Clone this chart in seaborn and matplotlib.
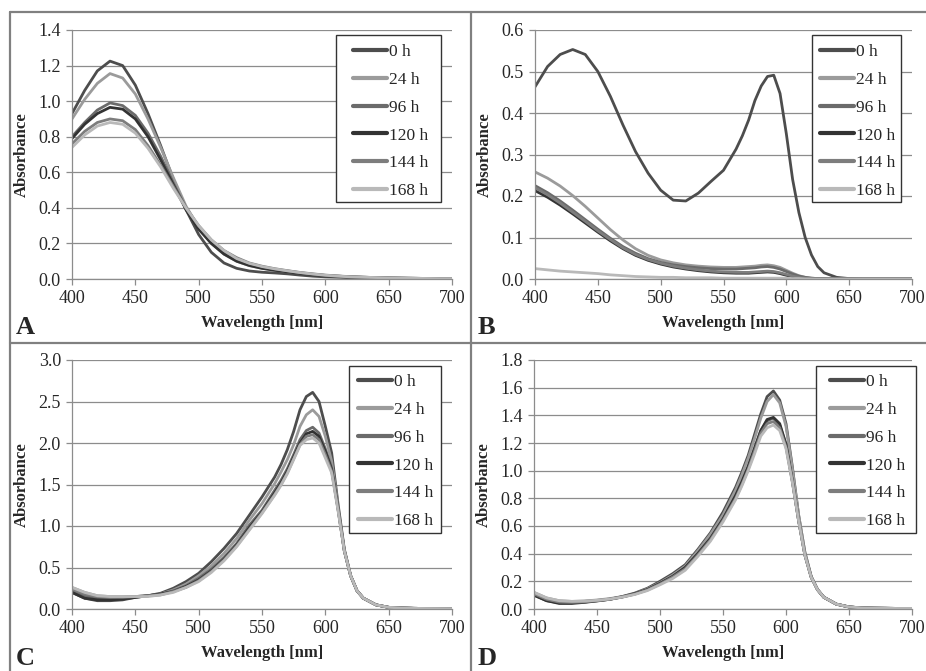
import numpy as np
import pandas as pd
import seaborn as sns
import matplotlib.pyplot as plt
from matplotlib.lines import Line2D
from matplotlib.patches import Rectangle

# time points and grey shades (as in the legend)
HOURS = ['0 h', '24 h', '96 h', '120 h', '144 h', '168 h']
GREYS = ['#4d4d4d', '#9b9b9b', '#6b6b6b', '#333333', '#7d7d7d', '#b9b9b9']

# wavelength grids
WL_A = list(range(400, 701, 10))
WL_BCD = list(range(400, 551, 10)) + list(range(560, 631, 5)) + list(range(640, 701, 10))

# Panel A
A_0h = [0.93, 1.06, 1.17, 1.225, 1.20, 1.09, 0.93, 0.75, 0.56, 0.39, 0.25, 0.15, 0.09, 0.06, 0.045, 0.038,
        0.034, 0.029, 0.022, 0.016, 0.012, 0.010, 0.008, 0.006, 0.005, 0.004, 0.003, 0.002, 0.002, 0.001, 0.001]
A_24h = [0.90, 1.01, 1.10, 1.155, 1.13, 1.04, 0.90, 0.74, 0.57, 0.41, 0.29, 0.20, 0.14, 0.10, 0.075, 0.060,
         0.050, 0.041, 0.033, 0.026, 0.020, 0.016, 0.012, 0.010, 0.008, 0.006, 0.005, 0.004, 0.003, 0.002, 0.002]
A_96h = [0.80, 0.88, 0.95, 0.99, 0.975, 0.92, 0.82, 0.69, 0.54, 0.40, 0.29, 0.21, 0.15, 0.11, 0.085, 0.068,
         0.055, 0.045, 0.035, 0.027, 0.020, 0.016, 0.012, 0.010, 0.008, 0.006, 0.005, 0.004, 0.003, 0.002, 0.002]
A_120h = [0.79, 0.87, 0.93, 0.965, 0.955, 0.90, 0.80, 0.67, 0.53, 0.39, 0.28, 0.20, 0.14, 0.10, 0.076, 0.060,
          0.049, 0.040, 0.031, 0.024, 0.018, 0.014, 0.011, 0.009, 0.007, 0.005, 0.004, 0.003, 0.003, 0.002, 0.002]
A_144h = [0.76, 0.83, 0.88, 0.90, 0.89, 0.84, 0.75, 0.64, 0.52, 0.40, 0.30, 0.22, 0.16, 0.12, 0.090, 0.072,
          0.058, 0.047, 0.037, 0.029, 0.022, 0.017, 0.013, 0.010, 0.008, 0.006, 0.005, 0.004, 0.003, 0.002, 0.002]
A_168h = [0.74, 0.81, 0.86, 0.88, 0.87, 0.82, 0.735, 0.63, 0.51, 0.40, 0.30, 0.22, 0.16, 0.115, 0.088, 0.070,
          0.057, 0.046, 0.036, 0.028, 0.021, 0.016, 0.012, 0.010, 0.008, 0.006, 0.005, 0.004, 0.003, 0.002, 0.002]

# Panel B
B_0h = [0.463, 0.512, 0.541, 0.553, 0.541, 0.50, 0.44, 0.371, 0.307, 0.255, 0.214, 0.19, 0.188, 0.207, 0.235, 0.262,
        0.313, 0.345, 0.383, 0.43, 0.465, 0.488, 0.491, 0.447, 0.35, 0.24, 0.16, 0.10, 0.058, 0.03, 0.015,
        0.004, 0.001, 0.0, 0.0, 0.0, 0.0, 0.0]
B_24h = [0.258, 0.243, 0.224, 0.201, 0.175, 0.147, 0.119, 0.094, 0.073, 0.057, 0.046, 0.039, 0.034, 0.031, 0.029, 0.028,
         0.028, 0.029, 0.030, 0.031, 0.033, 0.034, 0.032, 0.028, 0.021, 0.014, 0.008, 0.004, 0.002, 0.001, 0.001,
         0.0, 0.0, 0.0, 0.0, 0.0, 0.0, 0.0]
B_96h = [0.225, 0.208, 0.188, 0.166, 0.143, 0.120, 0.098, 0.078, 0.062, 0.049, 0.040, 0.034, 0.030, 0.027, 0.025, 0.024,
         0.024, 0.025, 0.026, 0.027, 0.029, 0.030, 0.028, 0.024, 0.018, 0.012, 0.007, 0.004, 0.002, 0.001, 0.001,
         0.0, 0.0, 0.0, 0.0, 0.0, 0.0, 0.0]
B_120h = [0.213, 0.197, 0.178, 0.157, 0.135, 0.113, 0.092, 0.073, 0.057, 0.045, 0.036, 0.029, 0.024, 0.020, 0.017, 0.015,
          0.014, 0.014, 0.014, 0.015, 0.016, 0.017, 0.016, 0.013, 0.009, 0.005, 0.003, 0.001, 0.001, 0.0, 0.0,
          0.0, 0.0, 0.0, 0.0, 0.0, 0.0, 0.0]
B_144h = [0.220, 0.203, 0.183, 0.161, 0.139, 0.116, 0.095, 0.075, 0.059, 0.047, 0.038, 0.031, 0.026, 0.022, 0.019, 0.017,
          0.016, 0.016, 0.016, 0.017, 0.018, 0.019, 0.018, 0.015, 0.011, 0.007, 0.004, 0.002, 0.001, 0.0, 0.0,
          0.0, 0.0, 0.0, 0.0, 0.0, 0.0, 0.0]
B_168h = [0.025, 0.022, 0.019, 0.017, 0.015, 0.013, 0.010, 0.008, 0.006, 0.005, 0.004, 0.004, 0.003, 0.003, 0.003, 0.002,
          0.002, 0.002, 0.002, 0.002, 0.002, 0.002, 0.002, 0.002, 0.002, 0.001, 0.001, 0.0, 0.0, 0.0, 0.0,
          0.0, 0.0, 0.0, 0.0, 0.0, 0.0, 0.0]

# Panel C
C_0h = [0.20, 0.13, 0.10, 0.10, 0.11, 0.14, 0.16, 0.19, 0.25, 0.33, 0.43, 0.57, 0.73, 0.91, 1.13, 1.35,
        1.59, 1.74, 1.92, 2.14, 2.40, 2.56, 2.61, 2.50, 2.20, 1.88, 1.27, 0.72, 0.40, 0.22, 0.13,
        0.05, 0.02, 0.012, 0.008, 0.006, 0.005, 0.004]
C_24h = [0.26, 0.20, 0.16, 0.15, 0.15, 0.15, 0.16, 0.18, 0.23, 0.30, 0.40, 0.52, 0.67, 0.85, 1.07, 1.27,
         1.51, 1.65, 1.80, 1.98, 2.20, 2.34, 2.40, 2.32, 2.08, 1.78, 1.24, 0.71, 0.40, 0.22, 0.13,
         0.05, 0.02, 0.012, 0.008, 0.006, 0.005, 0.004]
C_96h = [0.23, 0.16, 0.13, 0.13, 0.14, 0.15, 0.16, 0.18, 0.22, 0.28, 0.37, 0.48, 0.62, 0.79, 1.01, 1.19,
         1.43, 1.55, 1.69, 1.86, 2.04, 2.15, 2.19, 2.12, 1.93, 1.70, 1.22, 0.70, 0.40, 0.22, 0.13,
         0.05, 0.02, 0.012, 0.008, 0.006, 0.005, 0.004]
C_120h = [0.20, 0.13, 0.11, 0.11, 0.12, 0.14, 0.16, 0.18, 0.21, 0.27, 0.35, 0.46, 0.60, 0.77, 0.98, 1.17,
          1.40, 1.52, 1.66, 1.83, 2.00, 2.11, 2.14, 2.08, 1.90, 1.68, 1.21, 0.70, 0.40, 0.22, 0.13,
          0.05, 0.02, 0.012, 0.008, 0.006, 0.005, 0.004]
C_144h = [0.24, 0.18, 0.15, 0.14, 0.14, 0.15, 0.16, 0.17, 0.21, 0.26, 0.34, 0.45, 0.59, 0.76, 0.96, 1.16,
          1.38, 1.50, 1.64, 1.81, 1.98, 2.08, 2.10, 2.04, 1.86, 1.66, 1.20, 0.70, 0.40, 0.22, 0.13,
          0.05, 0.02, 0.012, 0.008, 0.006, 0.005, 0.004]
C_168h = [0.26, 0.20, 0.16, 0.15, 0.15, 0.15, 0.15, 0.17, 0.20, 0.26, 0.33, 0.44, 0.58, 0.75, 0.95, 1.15,
          1.37, 1.49, 1.63, 1.80, 1.97, 2.04, 2.06, 2.00, 1.82, 1.64, 1.19, 0.70, 0.40, 0.22, 0.13,
          0.05, 0.02, 0.012, 0.008, 0.006, 0.005, 0.004]

# Panel D
D_0h = [0.10, 0.06, 0.045, 0.045, 0.05, 0.06, 0.07, 0.09, 0.115, 0.15, 0.20, 0.255, 0.32, 0.43, 0.55, 0.70,
        0.88, 0.99, 1.11, 1.26, 1.41, 1.535, 1.576, 1.51, 1.34, 1.03, 0.68, 0.41, 0.235, 0.14, 0.085,
        0.035, 0.015, 0.008, 0.006, 0.005, 0.004, 0.004]
D_24h = [0.12, 0.08, 0.06, 0.055, 0.058, 0.065, 0.075, 0.09, 0.11, 0.145, 0.19, 0.245, 0.31, 0.42, 0.54, 0.68,
         0.86, 0.97, 1.09, 1.23, 1.38, 1.50, 1.55, 1.49, 1.32, 1.02, 0.68, 0.41, 0.235, 0.14, 0.085,
         0.035, 0.015, 0.008, 0.006, 0.005, 0.004, 0.004]
D_96h = [0.11, 0.07, 0.05, 0.05, 0.055, 0.062, 0.072, 0.088, 0.11, 0.14, 0.185, 0.235, 0.30, 0.40, 0.51, 0.65,
         0.82, 0.92, 1.03, 1.16, 1.29, 1.36, 1.38, 1.33, 1.19, 0.93, 0.64, 0.39, 0.23, 0.14, 0.085,
         0.035, 0.015, 0.008, 0.006, 0.005, 0.004, 0.004]
D_120h = [0.10, 0.06, 0.04, 0.04, 0.048, 0.058, 0.07, 0.087, 0.11, 0.14, 0.185, 0.235, 0.30, 0.40, 0.51, 0.65,
          0.82, 0.92, 1.03, 1.16, 1.29, 1.37, 1.385, 1.34, 1.19, 0.93, 0.64, 0.39, 0.23, 0.14, 0.085,
          0.035, 0.015, 0.008, 0.006, 0.005, 0.004, 0.004]
D_144h = [0.11, 0.07, 0.05, 0.048, 0.052, 0.06, 0.07, 0.086, 0.107, 0.137, 0.18, 0.23, 0.29, 0.39, 0.50, 0.64,
          0.80, 0.90, 1.01, 1.14, 1.27, 1.34, 1.355, 1.31, 1.17, 0.92, 0.64, 0.39, 0.23, 0.14, 0.085,
          0.035, 0.015, 0.008, 0.006, 0.005, 0.004, 0.004]
D_168h = [0.12, 0.08, 0.06, 0.055, 0.057, 0.063, 0.072, 0.086, 0.105, 0.133, 0.175, 0.22, 0.28, 0.38, 0.49, 0.63,
          0.79, 0.89, 1.00, 1.12, 1.25, 1.31, 1.33, 1.29, 1.16, 0.92, 0.64, 0.39, 0.23, 0.14, 0.085,
          0.035, 0.015, 0.008, 0.006, 0.005, 0.004, 0.004]

sns.set_style('white')
plt.rcParams['font.family'] = ['Liberation Serif', 'DejaVu Serif']

W, H = 926, 671
fig = plt.figure(figsize=(W / 100, H / 100), dpi=100)

GRID = '#8c8c8c'


def px_axes(left, top, right, bottom):
    return fig.add_axes([left / W, 1 - bottom / H, (right - left) / W, (bottom - top) / H])


def draw(ax, wl, series, ymax, ystep, box, handle_x, row1_y):
    df = pd.DataFrame({
        'wl': np.tile(wl, len(series)),
        'absorbance': np.concatenate(series),
        'time': np.repeat(HOURS, len(wl)),
    })
    sns.lineplot(data=df, x='wl', y='absorbance', hue='time', hue_order=HOURS,
                 palette=GREYS, linewidth=2.0, estimator=None, ax=ax, legend=False)
    ax.set_xlim(400, 700)
    ax.set_ylim(0, ymax)
    ax.set_xticks(range(400, 701, 50))
    yt = np.arange(0, ymax + 1e-9, ystep)
    ax.set_yticks(yt)
    ax.set_yticklabels([f'{v:.1f}' for v in yt])
    ax.yaxis.grid(True, color=GRID, lw=0.9)
    ax.set_axisbelow(True)
    for s in ['top', 'right']:
        ax.spines[s].set_visible(False)
    for s in ['left', 'bottom']:
        ax.spines[s].set_color(GRID)
        ax.spines[s].set_linewidth(0.9)
    ax.tick_params(axis='both', direction='out', length=4, width=0.9, color=GRID,
                   labelsize=13, pad=4, left=True, bottom=True)
    ax.set_xlabel('Wavelength [nm]', fontsize=12, fontweight='bold', labelpad=6)
    ax.set_ylabel('Absorbance', fontsize=12, fontweight='bold', labelpad=6)

    # legend frame drawn separately so its padding matches the original box
    l, t, r, b = box
    ax.add_patch(Rectangle((l / W, 1 - b / H), (r - l) / W, (b - t) / H,
                           transform=fig.transFigure, facecolor='white',
                           edgecolor='#333333', lw=1.0, zorder=4, clip_on=False))
    handles = [Line2D([], [], color=c, lw=3) for c in GREYS]
    leg = ax.legend(handles, HOURS, loc='upper left',
                    bbox_to_anchor=(handle_x / W, 1 - (row1_y - 6) / H),
                    bbox_transform=fig.transFigure, frameon=False,
                    fontsize=12.5, handlelength=1.95, handletextpad=0.1, labelspacing=0.67,
                    borderpad=0, borderaxespad=0)
    leg.set_zorder(5)


axA = px_axes(72, 30, 452, 279)
draw(axA, WL_A, [A_0h, A_24h, A_96h, A_120h, A_144h, A_168h], 1.4, 0.2,
     (336, 35, 441, 202), 353, 50)
axB = px_axes(535, 30, 912, 279)
draw(axB, WL_BCD, [B_0h, B_24h, B_96h, B_120h, B_144h, B_168h], 0.6, 0.1,
     (812, 35, 901, 202), 820, 50)
axC = px_axes(72, 360, 452, 609)
draw(axC, WL_BCD, [C_0h, C_24h, C_96h, C_120h, C_144h, C_168h], 3.0, 0.5,
     (349, 366, 441, 533), 358, 380)
axD = px_axes(534, 360, 912, 609)
draw(axD, WL_BCD, [D_0h, D_24h, D_96h, D_120h, D_144h, D_168h], 1.8, 0.2,
     (816, 366, 916, 533), 830, 380)

# panel letters
for letter, x, y in [('A', 16, 334), ('B', 478, 334), ('C', 16, 665), ('D', 478, 665)]:
    fig.text(x / W, 1 - y / H, letter, fontsize=19, fontweight='bold', va='baseline', ha='left')

# frame lines around / between panels
BORDER = '#808080'
for xs, ys in [([10, 10], [12, H]), ([10, W], [12, 12]), ([471, 471], [12, H]), ([10, W], [343, 343])]:
    fig.add_artist(Line2D([x / W for x in xs], [1 - y / H for y in ys], color=BORDER, lw=1.6))

fig.savefig('out.png', dpi=100)
